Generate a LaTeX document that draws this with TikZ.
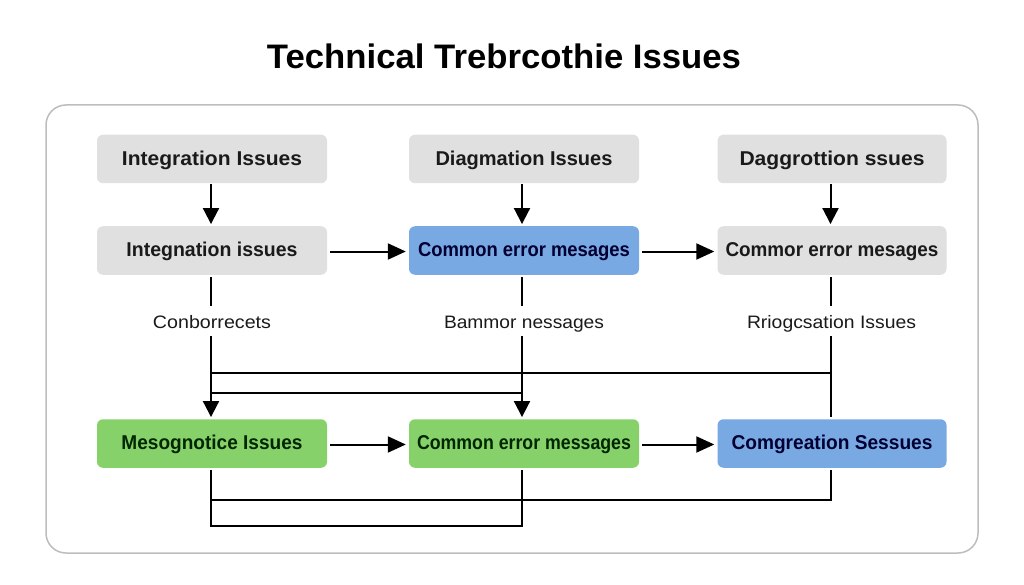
\documentclass[tikz,border=0pt]{standalone}
\usepackage{fontspec}
\usepackage{graphicx}
\setmainfont{Liberation Sans}
\usetikzlibrary{arrows.meta,calc}
\definecolor{boxgray}{HTML}{E0E0E0}
\definecolor{boxblue}{HTML}{79A9E2}
\definecolor{boxgreen}{HTML}{86D16A}
\definecolor{framegray}{HTML}{BDBDBD}
\definecolor{ink}{HTML}{1A1A1A}
\newcommand{\fitw}[2]{\resizebox{#1pt}{\height}{#2}}
\tikzset{
  x=1pt,y=-1pt,
  card/.style={rounded corners=6pt,minimum width=230pt,minimum height=48.5pt,inner sep=0pt,text height=12.5pt,text depth=0pt,font=\fontsize{20}{22}\selectfont\bfseries,text=ink},
  graycard/.style={card,fill=boxgray},
  bluecard/.style={card,fill=boxblue,text=black!80!blue},
  greencard/.style={card,fill=boxgreen,text=black!85!green},
  plainlabel/.style={font=\fontsize{18}{20}\selectfont,text=ink,inner sep=0pt,text height=13pt,text depth=0pt},
  link/.style={line width=2pt,black},
  flow/.style={link,-{Triangle[length=16pt,width=16pt]}},
  hflow/.style={link,-{Triangle[length=18pt,width=16pt]}},
}
\begin{document}
\begin{tikzpicture}
\useasboundingbox (0,0) rectangle (1024,585);
\fill[white] (0,0) rectangle (1024,585);
\node[font=\fontsize{34}{40}\selectfont\bfseries,text=black,inner sep=0pt] (title) at (504,56) {\fitw{474}{Technical Trebrcothie Issues}};
\draw[framegray,line width=1.5pt,rounded corners=20pt] (46,105) rectangle (978,553);
\coordinate (c1) at (211,0);
\coordinate (c2) at (522,0);
\coordinate (c3) at (830.5,0);
\node[graycard] (a1) at (212,159) {\fitw{180}{Integration Issues}};
\node[graycard] (a2) at (524,159) {\fitw{177}{Diagmation Issues}};
\node[graycard,minimum width=229pt] (a3) at (832,159) {\fitw{185}{Daggrottion ssues}};
\node[graycard] (b1) at (212,250.5) {\fitw{171}{Integnation issues}};
\node[bluecard] (b2) at (524,250.5) {\fitw{212}{Common error mesages}};
\node[graycard,minimum width=229pt] (b3) at (832,250.5) {\fitw{213}{Commor error mesages}};
\node[plainlabel] (l1) at (212,321.5) {\fitw{118}{Conborrecets}};
\node[plainlabel] (l2) at (524,321.5) {\fitw{160}{Bammor nessages}};
\node[plainlabel] (l3) at (831.5,321.5) {\fitw{169}{Rriogcsation Issues}};
\node[greencard] (d1) at (212,443.5) {\fitw{181}{Mesognotice Issues}};
\node[greencard] (d2) at (524,443.5) {\fitw{214}{Common error messages}};
\node[bluecard,minimum width=229pt] (d3) at (832,443.5) {\fitw{201}{Comgreation Sessues}};
% vertical arrows
\draw[flow,shorten <=1pt,shorten >=2pt] (c1 |- a1.south) -- (c1 |- b1.north);
\draw[flow,shorten <=1pt,shorten >=2pt] (c2 |- a2.south) -- (c2 |- b2.north);
\draw[flow,shorten <=1pt,shorten >=2pt] (c3 |- a3.south) -- (c3 |- b3.north);
% horizontal arrows
\draw[hflow] ($(b1.east)+(3,1)$) -- ($(b2.west)+(-3,1)$);
\draw[hflow] ($(b2.east)+(3,1)$) -- ($(b3.west)+(-3,1)$);
\draw[hflow] ($(d1.east)+(3,1)$) -- ($(d2.west)+(-3,1)$);
\draw[hflow] ($(d2.east)+(3,1)$) -- ($(d3.west)+(-3,1)$);
% row two to labels
\draw[link,shorten <=2pt] (c1 |- b1.south) -- ($(c1 |- l1.north)+(0,-9)$);
\draw[link,shorten <=2pt] (c2 |- b2.south) -- ($(c2 |- l2.north)+(0,-9)$);
\draw[link,shorten <=2pt] (c3 |- b3.south) -- ($(c3 |- l3.north)+(0,-9)$);
% labels down
\draw[flow,shorten >=2pt] ($(c1 |- l1.south)+(0,8)$) -- (c1 |- d1.north);
\draw[flow,shorten >=2pt] ($(c2 |- l2.south)+(0,8)$) -- (c2 |- d2.north);
\draw[link,shorten >=2pt] ($(c3 |- l3.south)+(0,8)$) -- (c3 |- d3.north);
\coordinate (h1) at (0,373);
\coordinate (h2) at (0,393);
\coordinate (h3) at (0,500);
\coordinate (h4) at (0,526);
\draw[link] (c1 |- h1) -- (c3 |- h1);
\draw[link] (c1 |- h2) -- (c2 |- h2);
% bottom return lines
\draw[link,shorten <=2pt,shorten >=2pt,line join=miter] (c1 |- d1.south) -- (c1 |- h4) -- (c2 |- h4) -- (c2 |- d2.south);
\draw[link,shorten >=2pt,line join=miter] (c1 |- h3) -- (c3 |- h3) -- (c3 |- d3.south);
\end{tikzpicture}
\end{document}
